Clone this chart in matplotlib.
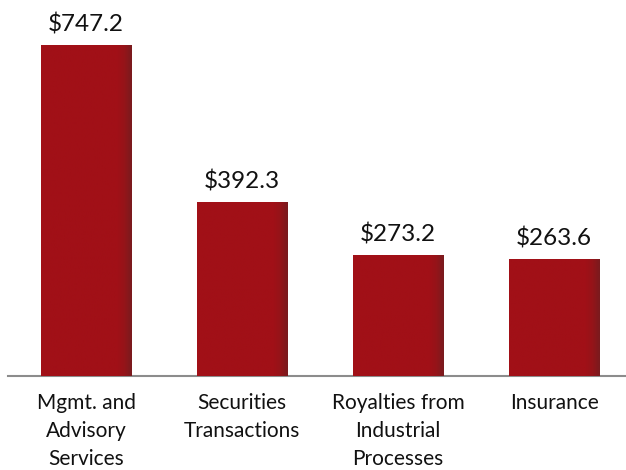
import numpy as np
import matplotlib
matplotlib.use('Agg')
import matplotlib.pyplot as plt
from matplotlib.colors import LinearSegmentedColormap

# Revenue by category, values in $ millions
categories = ['Mgmt. and\nAdvisory\nServices', 'Securities\nTransactions',
              'Royalties from\nIndustrial\nProcesses', 'Insurance']
values = [747.2, 392.3, 273.2, 263.6]
value_labels = ['$747.2', '$392.3', '$273.2', '$263.6']

plt.rcParams['font.family'] = ['Lato', 'DejaVu Sans']

fig = plt.figure(figsize=(6.26, 4.70), dpi=100)
ax = fig.add_axes([8 / 626, 0.2, 1 - 8 / 626, 0.8])

x = np.arange(len(values))
width = 0.577
bars = ax.bar(x, values, width=width, color='#a11017', linewidth=0, zorder=2)

# darker shading toward the right edge of each bar
shade = LinearSegmentedColormap.from_list(
    'shade', [(0.0, '#a11017'), (0.84, '#a11017'), (0.92, '#951419'),
              (1.0, '#7a1b1e')])
grad = np.linspace(0, 1, 300).reshape(1, -1)
for b in bars:
    x0, w, h = b.get_x(), b.get_width(), b.get_height()
    im = ax.imshow(grad, cmap=shade, aspect='auto', zorder=3,
                   extent=[x0, x0 + w, 0, h], interpolation='bilinear')
    im.set_clip_path(b)

for xi, v, lab in zip(x, values, value_labels):
    ax.text(xi, v + 31, lab, ha='center', va='baseline', fontsize=17.5,
            color='#111111')

ax.set_xlim(-0.5, 3.46)
ax.set_ylim(0, 376 / 0.443)

for s in ['top', 'right', 'left']:
    ax.spines[s].set_visible(False)
ax.spines['bottom'].set_color('#8c8c8c')
ax.spines['bottom'].set_linewidth(1.5)
ax.set_yticks([])
ax.set_xticks(x)
ax.set_xticklabels(categories, fontsize=15, linespacing=1.52, color='#111111')
ax.tick_params(axis='x', length=0, pad=12)

fig.savefig('out.png', dpi=100)
